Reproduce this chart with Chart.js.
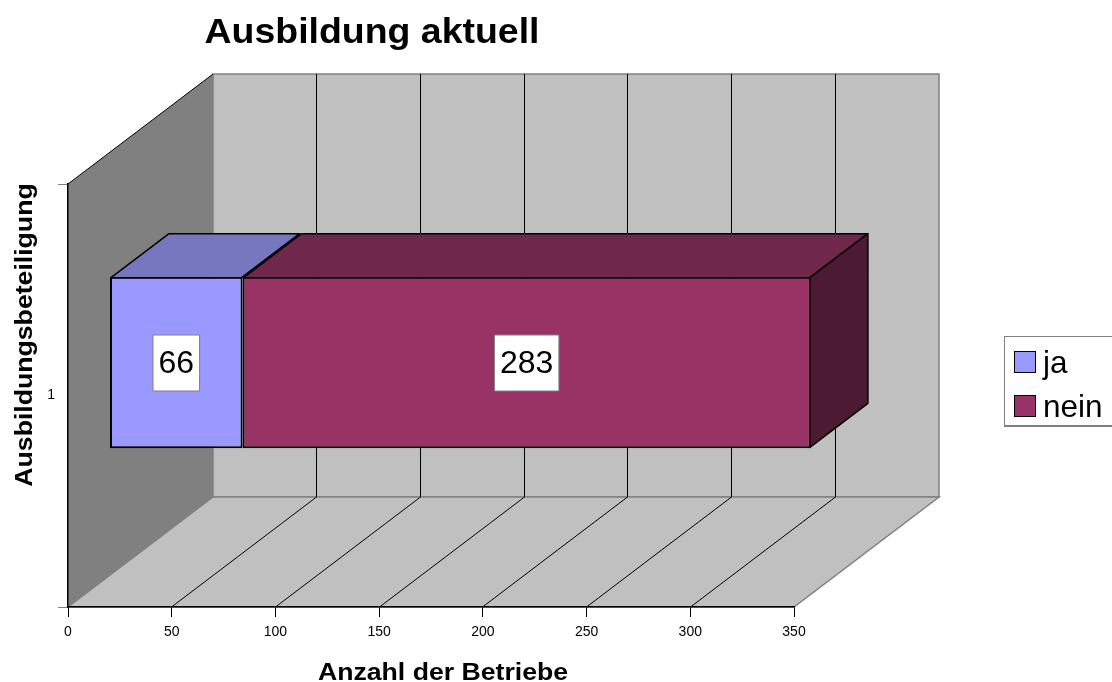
<!DOCTYPE html>
<html>
<head>
<meta charset="utf-8">
<style>
  body { margin: 0; background: #fff; font-family: "Liberation Sans", Arial, sans-serif; }
  #wrap { position: relative; width: 1112px; height: 682px; overflow: hidden; }
  #legend { position: absolute; left: 1004px; top: 336px; width: 110px; height: 91px; box-sizing: border-box;
            border: 1px solid #808080; border-bottom-width: 2px; background: #fff; }
  #legend div { position: absolute; left: 38px; font-size: 31.5px; line-height: 44px; color: #000; }
  #legend i { position: absolute; left: 9px; width: 20px; height: 20px; border: 1px solid #000; }
</style>
</head>
<body>
<div id="wrap">
  <canvas id="chart" width="1112" height="682"></canvas>
  <div id="legend"></div>
</div>
<script src="https://cdn.jsdelivr.net/npm/chart.js@4"></script>
<script>
// Values
const categories = ["1"];
const seriesNames = ["ja", "nein"];
const jaValues = [66];
const neinValues = [283];
const xTicks = [0, 50, 100, 150, 200, 250, 300, 350];

const frontColors = ["#9999ff", "#993366"];
const topColors = ["#7777bf", "#70274c"];
const sideColors = ["#4d1a33", "#4d1a33"];

// Depth of the fake 3D box, the bar sits about 30% in and takes 40% of it
const depthX = 145;
const depthY = -110;
const barShiftX = 42;
const barShiftY = -33;
const barDepth = 0.4;
const barBorder = 2;

function poly(ctx, pts, fill, stroke, lw) {
    ctx.beginPath();
    pts.forEach((p, i) => i ? ctx.lineTo(p[0], p[1]) : ctx.moveTo(p[0], p[1]));
    ctx.closePath();
    ctx.fillStyle = fill;
    ctx.fill();
    if (stroke) {
        ctx.strokeStyle = stroke;
        ctx.lineWidth = lw;
        ctx.stroke();
    }
}

// original font runs wider than Liberation, stretch the headings a bit
function wideText(ctx, text, x, y, font, stretch, angle) {
    ctx.save();
    ctx.translate(x, y);
    ctx.rotate(angle);
    ctx.scale(stretch, 1);
    ctx.font = font;
    ctx.fillText(text, 0, 0);
    ctx.restore();
}

const box3d = {
    id: "box3d",
    // walls and floor, under the axes
    beforeDraw(chart) {
        const ctx = chart.ctx;
        const x = chart.scales.x;
        const l = chart.chartArea.left, r = chart.chartArea.right;
        const t = chart.chartArea.top, b = chart.chartArea.bottom;

        poly(ctx, [[l + depthX, t + depthY], [r + depthX, t + depthY], [r + depthX, b + depthY], [l + depthX, b + depthY]], "#c0c0c0", "#808080", 1.5);
        poly(ctx, [[l, b], [l + depthX, b + depthY], [r + depthX, b + depthY], [r, b]], "#c0c0c0", "#808080", 1.5);
        poly(ctx, [[l, t], [l + depthX, t + depthY], [l + depthX, b + depthY], [l, b]], "#808080");

        ctx.strokeStyle = "#000";
        ctx.lineWidth = 1;
        xTicks.slice(1, -1).forEach(v => {
            const px = Math.floor(x.getPixelForValue(v)) + 0.5;
            ctx.beginPath();
            ctx.moveTo(px, b);
            ctx.lineTo(px + depthX, b + depthY);
            ctx.lineTo(px + depthX, t + depthY);
            ctx.stroke();
        });
        ctx.beginPath();
        ctx.moveTo(l, t);
        ctx.lineTo(l + depthX, t + depthY);
        ctx.stroke();
    },
    beforeDatasetsDraw(chart) {
        chart.ctx.save();
        chart.ctx.translate(barShiftX, barShiftY);
    },
    // top and side faces plus the value boxes, on the shifted bars
    afterDatasetsDraw(chart) {
        const ctx = chart.ctx;
        const dx = depthX * barDepth, dy = depthY * barDepth;
        const inset = barBorder / 2;
        ctx.lineJoin = "round";
        chart.data.datasets.forEach((ds, i) => {
            chart.getDatasetMeta(i).data.forEach((bar, j) => {
                const p = bar.getProps(["x", "y", "base", "height"]);
                const left = p.base + inset, right = p.x - inset;
                const top = p.y - p.height / 2 + inset, bottom = p.y + p.height / 2 - inset;
                poly(ctx, [[left, top], [left + dx, top + dy], [right + dx, top + dy], [right, top]], topColors[i], "#000", 1.5);
                if (i === chart.data.datasets.length - 1) {
                    poly(ctx, [[right, top], [right + dx, top + dy], [right + dx, bottom + dy], [right, bottom]], sideColors[i], "#000", 1.5);
                }
            });
        });
        chart.data.datasets.forEach((ds, i) => {
            chart.getDatasetMeta(i).data.forEach((bar, j) => {
                const p = bar.getProps(["x", "y", "base"]);
                const cx = (p.base + p.x) / 2;
                const label = String(ds.data[j]);
                ctx.font = '32px "Liberation Sans", Arial, sans-serif';
                const w = ctx.measureText(label).width + 11;
                ctx.fillStyle = "#fff";
                ctx.strokeStyle = "#808080";
                ctx.lineWidth = 1;
                ctx.fillRect(cx - w / 2, p.y - 27.5, w, 56);
                ctx.strokeRect(cx - w / 2, p.y - 27.5, w, 56);
                ctx.fillStyle = "#000";
                ctx.textAlign = "center";
                ctx.textBaseline = "middle";
                ctx.fillText(label, cx, p.y + 2);
            });
        });
        ctx.restore();
    },
    // title and axis titles sit off centre in the original
    afterDraw(chart) {
        const ctx = chart.ctx;
        ctx.save();
        ctx.fillStyle = "#000";
        ctx.textAlign = "center";
        ctx.textBaseline = "alphabetic";
        wideText(ctx, "Ausbildung aktuell", 372, 43, 'bold 35px "Liberation Sans", Arial, sans-serif', 1.07, 0);
        wideText(ctx, "Anzahl der Betriebe", 443, 680, 'bold 24px "Liberation Sans", Arial, sans-serif', 1.11, 0);
        wideText(ctx, "Ausbildungsbeteiligung", 32, 335, 'bold 24px "Liberation Sans", Arial, sans-serif', 1.11, -Math.PI / 2);
        ctx.restore();
    }
};

new Chart(document.getElementById("chart"), {
    type: "bar",
    data: {
        labels: categories,
        datasets: [
            { label: seriesNames[0], data: jaValues, backgroundColor: frontColors[0], xAxisID: "x2", yAxisID: "y" },
            { label: seriesNames[1], data: neinValues, backgroundColor: frontColors[1], xAxisID: "x2", yAxisID: "y" }
        ]
    },
    options: {
        indexAxis: "y",
        responsive: false,
        animation: false,
        layout: { padding: { top: 184, right: 318, left: 0, bottom: 0 } },
        clip: false,
        borderColor: "#000",
        borderWidth: barBorder,
        borderSkipped: false,
        categoryPercentage: 0.406,
        barPercentage: 1,
        plugins: { legend: { display: false }, title: { display: false }, tooltip: { enabled: false } },
        scales: {
            x: {
                type: "linear",
                position: "bottom",
                min: xTicks[0],
                max: xTicks[xTicks.length - 1],
                afterFit: s => { s.height = 75; },
                afterBuildTicks: s => { s.ticks = xTicks.map(v => ({ value: v })); },
                grid: { drawOnChartArea: false, color: "#000", tickLength: 10 },
                border: { color: "#000", width: 1.5 },
                ticks: { color: "#000", font: { family: "Liberation Sans", size: 14 }, padding: 7, maxRotation: 0 }
            },
            // the bars run a little narrower than the printed axis in the original
            x2: {
                type: "linear",
                axis: "x",
                display: false,
                stacked: true,
                min: 0,
                max: 361.5
            },
            y: {
                stacked: true,
                afterFit: s => { s.width = 68; },
                grid: { drawOnChartArea: false, color: "#808080", tickLength: 10 },
                border: { color: "#000", width: 1.5 },
                ticks: { color: "#000", font: { family: "Liberation Sans", size: 14 }, padding: 3 }
            }
        }
    },
    plugins: [box3d]
});

// Legend as plain markup, it sits outside the plot
const legend = document.getElementById("legend");
seriesNames.forEach((name, i) => {
    const top = 3 + i * 44;
    legend.insertAdjacentHTML("beforeend",
        `<i style="top:${14 + i * 44}px;background:${frontColors[i]}"></i><div style="top:${top}px">${name}</div>`);
});
</script>
</body>
</html>
